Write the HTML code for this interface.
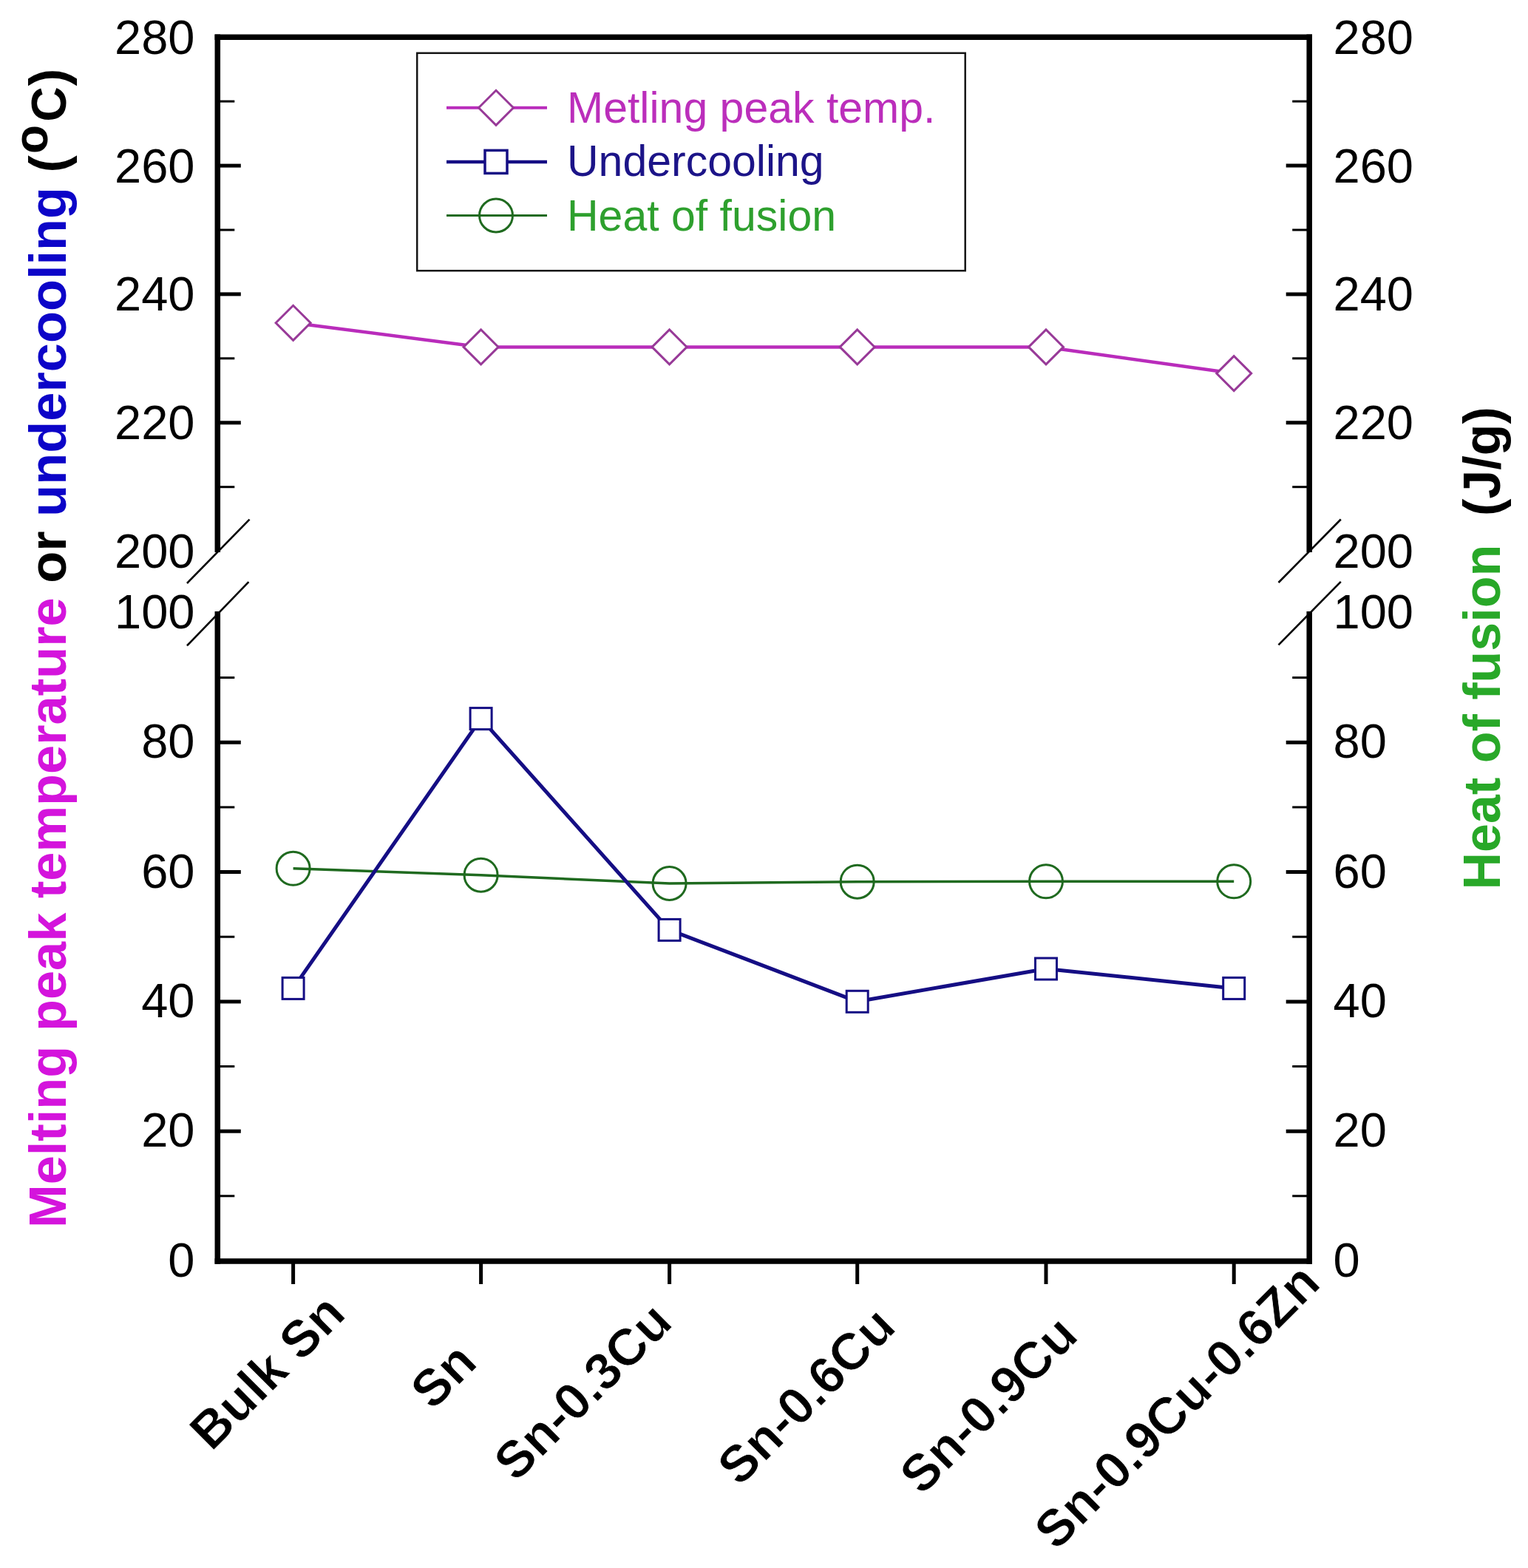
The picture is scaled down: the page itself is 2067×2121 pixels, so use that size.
<!DOCTYPE html>
<html><head><meta charset="utf-8"><title>Chart</title>
<style>html,body{margin:0;padding:0;background:#fff;}svg{display:block;}text{font-family:"Liberation Sans",Arial,sans-serif;}</style></head><body>
<svg width="2067" height="2121" viewBox="0 0 2067 2121">
<rect x="0" y="0" width="2067" height="2121" fill="#fff"/>
<g stroke="#000" stroke-width="7.5" fill="none" stroke-linecap="butt">
<line x1="290.55" y1="50.2" x2="1774.95" y2="50.2"/>
<line x1="290.55" y1="1706.0" x2="1774.95" y2="1706.0"/>
<line x1="294.3" y1="46.45" x2="294.3" y2="747.0"/>
<line x1="294.3" y1="827.0" x2="294.3" y2="1709.75"/>
<line x1="1771.2" y1="46.45" x2="1771.2" y2="747.0"/>
<line x1="1771.2" y1="827.0" x2="1771.2" y2="1709.75"/>
</g>
<g stroke="#000" stroke-width="2.6" fill="none">
<line x1="253" y1="789" x2="337.5" y2="702.6"/>
<line x1="253" y1="873.3" x2="336.4" y2="787.2"/>
<line x1="1729.5" y1="788" x2="1813.8" y2="702.5"/>
<line x1="1729.5" y1="872.4" x2="1813.8" y2="786.9"/>
</g>
<g stroke="#000" fill="none">
<line x1="294.3" y1="658.7" x2="317.3" y2="658.7" stroke-width="3"/>
<line x1="1771.2" y1="658.7" x2="1748.2" y2="658.7" stroke-width="3"/>
<line x1="294.3" y1="571.8" x2="325.8" y2="571.8" stroke-width="5"/>
<line x1="1771.2" y1="571.8" x2="1739.7" y2="571.8" stroke-width="5"/>
<line x1="294.3" y1="484.8" x2="317.3" y2="484.8" stroke-width="3"/>
<line x1="1771.2" y1="484.8" x2="1748.2" y2="484.8" stroke-width="3"/>
<line x1="294.3" y1="397.9" x2="325.8" y2="397.9" stroke-width="5"/>
<line x1="1771.2" y1="397.9" x2="1739.7" y2="397.9" stroke-width="5"/>
<line x1="294.3" y1="311.0" x2="317.3" y2="311.0" stroke-width="3"/>
<line x1="1771.2" y1="311.0" x2="1748.2" y2="311.0" stroke-width="3"/>
<line x1="294.3" y1="224.1" x2="325.8" y2="224.1" stroke-width="5"/>
<line x1="1771.2" y1="224.1" x2="1739.7" y2="224.1" stroke-width="5"/>
<line x1="294.3" y1="137.1" x2="317.3" y2="137.1" stroke-width="3"/>
<line x1="1771.2" y1="137.1" x2="1748.2" y2="137.1" stroke-width="3"/>
<line x1="294.3" y1="1617.8" x2="317.3" y2="1617.8" stroke-width="3"/>
<line x1="1771.2" y1="1617.8" x2="1748.2" y2="1617.8" stroke-width="3"/>
<line x1="294.3" y1="1530.2" x2="325.8" y2="1530.2" stroke-width="5"/>
<line x1="1771.2" y1="1530.2" x2="1739.7" y2="1530.2" stroke-width="5"/>
<line x1="294.3" y1="1442.5" x2="317.3" y2="1442.5" stroke-width="3"/>
<line x1="1771.2" y1="1442.5" x2="1748.2" y2="1442.5" stroke-width="3"/>
<line x1="294.3" y1="1354.9" x2="325.8" y2="1354.9" stroke-width="5"/>
<line x1="1771.2" y1="1354.9" x2="1739.7" y2="1354.9" stroke-width="5"/>
<line x1="294.3" y1="1267.2" x2="317.3" y2="1267.2" stroke-width="3"/>
<line x1="1771.2" y1="1267.2" x2="1748.2" y2="1267.2" stroke-width="3"/>
<line x1="294.3" y1="1179.5" x2="325.8" y2="1179.5" stroke-width="5"/>
<line x1="1771.2" y1="1179.5" x2="1739.7" y2="1179.5" stroke-width="5"/>
<line x1="294.3" y1="1091.9" x2="317.3" y2="1091.9" stroke-width="3"/>
<line x1="1771.2" y1="1091.9" x2="1748.2" y2="1091.9" stroke-width="3"/>
<line x1="294.3" y1="1004.2" x2="325.8" y2="1004.2" stroke-width="5"/>
<line x1="1771.2" y1="1004.2" x2="1739.7" y2="1004.2" stroke-width="5"/>
<line x1="294.3" y1="916.6" x2="317.3" y2="916.6" stroke-width="3"/>
<line x1="1771.2" y1="916.6" x2="1748.2" y2="916.6" stroke-width="3"/>
<line x1="396.6" y1="1706.0" x2="396.6" y2="1737" stroke-width="5"/>
<line x1="650.6" y1="1706.0" x2="650.6" y2="1737" stroke-width="5"/>
<line x1="905.6" y1="1706.0" x2="905.6" y2="1737" stroke-width="5"/>
<line x1="1159.7" y1="1706.0" x2="1159.7" y2="1737" stroke-width="5"/>
<line x1="1415.0" y1="1706.0" x2="1415.0" y2="1737" stroke-width="5"/>
<line x1="1669.2" y1="1706.0" x2="1669.2" y2="1737" stroke-width="5"/>
</g>
<g font-size="65" fill="#000">
<text x="263.5" y="72.7" text-anchor="end">280</text>
<text x="1803.5" y="72.7">280</text>
<text x="263.5" y="246.6" text-anchor="end">260</text>
<text x="1803.5" y="246.6">260</text>
<text x="263.5" y="420.4" text-anchor="end">240</text>
<text x="1803.5" y="420.4">240</text>
<text x="263.5" y="594.3" text-anchor="end">220</text>
<text x="1803.5" y="594.3">220</text>
<text x="263.5" y="768.1" text-anchor="end">200</text>
<text x="1803.5" y="768.1">200</text>
<text x="263.5" y="849.9" text-anchor="end">100</text>
<text x="1803.5" y="849.9">100</text>
<text x="263.5" y="1025.2" text-anchor="end">80</text>
<text x="1803.5" y="1025.2">80</text>
<text x="263.5" y="1200.5" text-anchor="end">60</text>
<text x="1803.5" y="1200.5">60</text>
<text x="263.5" y="1375.9" text-anchor="end">40</text>
<text x="1803.5" y="1375.9">40</text>
<text x="263.5" y="1551.2" text-anchor="end">20</text>
<text x="1803.5" y="1551.2">20</text>
<text x="263.5" y="1726.5" text-anchor="end">0</text>
<text x="1803.5" y="1726.5">0</text>
</g>
<polyline points="396.6,1174.8 650.6,1183.7 905.6,1195.0 1159.7,1192.7 1415.0,1192.3 1669.2,1192.3" fill="none" stroke="#1f6a1f" stroke-width="3.5"/>
<circle cx="396.6" cy="1174.8" r="22.5" fill="none" stroke="#1f6a1f" stroke-width="3"/>
<circle cx="650.6" cy="1183.7" r="22.5" fill="none" stroke="#1f6a1f" stroke-width="3"/>
<circle cx="905.6" cy="1195.0" r="22.5" fill="none" stroke="#1f6a1f" stroke-width="3"/>
<circle cx="1159.7" cy="1192.7" r="22.5" fill="none" stroke="#1f6a1f" stroke-width="3"/>
<circle cx="1415.0" cy="1192.3" r="22.5" fill="none" stroke="#1f6a1f" stroke-width="3"/>
<circle cx="1669.2" cy="1192.3" r="22.5" fill="none" stroke="#1f6a1f" stroke-width="3"/>
<polyline points="396.6,1336.9 650.6,972.1 905.6,1257.9 1159.7,1354.8 1415.0,1310.5 1669.2,1336.9" fill="none" stroke="#150e84" stroke-width="5" stroke-linejoin="round"/>
<rect x="382.1" y="1322.4" width="29" height="29" fill="#fff" stroke="#150e84" stroke-width="3"/>
<rect x="636.1" y="957.6" width="29" height="29" fill="#fff" stroke="#150e84" stroke-width="3"/>
<rect x="891.1" y="1243.4" width="29" height="29" fill="#fff" stroke="#150e84" stroke-width="3"/>
<rect x="1145.2" y="1340.3" width="29" height="29" fill="#fff" stroke="#150e84" stroke-width="3"/>
<rect x="1400.5" y="1296.0" width="29" height="29" fill="#fff" stroke="#150e84" stroke-width="3"/>
<rect x="1654.7" y="1322.4" width="29" height="29" fill="#fff" stroke="#150e84" stroke-width="3"/>
<polyline points="396.6,436.8 650.6,469.4 905.6,469.4 1159.7,469.4 1415.0,469.4 1669.2,505.1" fill="none" stroke="#b92cbb" stroke-width="4.5"/>
<polygon points="373.1,436.8 396.6,413.3 420.1,436.8 396.6,460.3" fill="#fff" stroke="#983a98" stroke-width="3"/>
<polygon points="627.1,469.4 650.6,445.9 674.1,469.4 650.6,492.9" fill="#fff" stroke="#983a98" stroke-width="3"/>
<polygon points="882.1,469.4 905.6,445.9 929.1,469.4 905.6,492.9" fill="#fff" stroke="#983a98" stroke-width="3"/>
<polygon points="1136.2,469.4 1159.7,445.9 1183.2,469.4 1159.7,492.9" fill="#fff" stroke="#983a98" stroke-width="3"/>
<polygon points="1391.5,469.4 1415.0,445.9 1438.5,469.4 1415.0,492.9" fill="#fff" stroke="#983a98" stroke-width="3"/>
<polygon points="1645.7,505.1 1669.2,481.6 1692.7,505.1 1669.2,528.6" fill="#fff" stroke="#983a98" stroke-width="3"/>
<rect x="564.2" y="71.8" width="741.5" height="294.4" fill="#fff" stroke="#141414" stroke-width="2.5"/>
<line x1="604" y1="145.8" x2="740" y2="145.8" stroke="#b92cbb" stroke-width="4"/>
<polygon points="647.5,145.8 671,122.30000000000001 694.5,145.8 671,169.3" fill="#fff" stroke="#983a98" stroke-width="3"/>
<line x1="604" y1="218.9" x2="740" y2="218.9" stroke="#150e84" stroke-width="4.5"/>
<rect x="656" y="203.4" width="30" height="31" fill="#fff" stroke="#150e84" stroke-width="3.5"/>
<line x1="604" y1="291.5" x2="740" y2="291.5" stroke="#1f6a1f" stroke-width="3"/>
<circle cx="671" cy="291.5" r="22.5" fill="none" stroke="#1f6a1f" stroke-width="3"/>
<g font-size="59">
<text x="767" y="165.8" fill="#bb2ebb">Metling peak temp.</text>
<text x="767" y="237.6" fill="#1c1488">Undercooling</text>
<text x="767" y="311.5" fill="#2ea02e">Heat of fusion</text>
</g>
<text font-size="70.4" font-weight="bold" transform="translate(89,1661) rotate(-90)"><tspan fill="#d414dc">Melting peak temperature</tspan><tspan fill="#000"> or </tspan><tspan fill="#0c04c8">undercooling</tspan><tspan fill="#000"> (<tspan dx="2" dy="-25" font-size="64">o</tspan><tspan dx="4" dy="25" font-size="66">C</tspan><tspan dx="1">)</tspan></tspan></text>
<text font-size="70" font-weight="bold" transform="translate(2029,1203.5) rotate(-90)" xml:space="preserve"><tspan fill="#28a828">Heat of fusion</tspan><tspan fill="#000">  (J/g)</tspan></text>
<g font-size="70" font-weight="bold" fill="#000" stroke="#fff" stroke-width="0.8">
<text text-anchor="end" transform="translate(470.2,1780.3) rotate(-45)">Bulk Sn</text>
<text text-anchor="end" transform="translate(648.2,1846.1) rotate(-45)">Sn</text>
<text text-anchor="end" transform="translate(912.4,1791.8) rotate(-45)">Sn-0.3Cu</text>
<text text-anchor="end" transform="translate(1214.8,1797.7) rotate(-45)">Sn-0.6Cu</text>
<text text-anchor="end" transform="translate(1461.3,1809.6) rotate(-45)">Sn-0.9Cu</text>
<text text-anchor="end" transform="translate(1789.0,1738.7) rotate(-45)">Sn-0.9Cu-0.6Zn</text>
</g>
</svg>
</body></html>
